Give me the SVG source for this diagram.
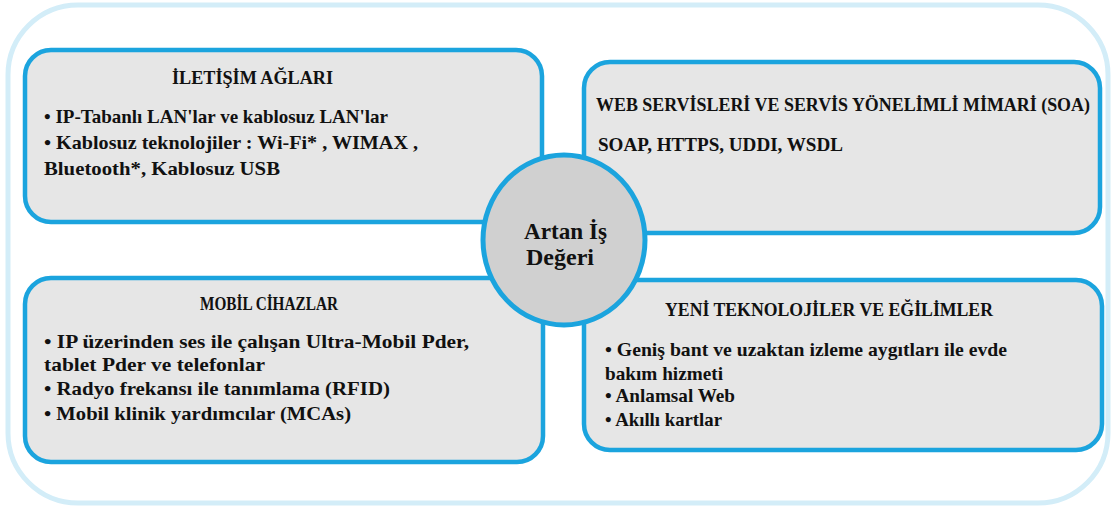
<svg xmlns="http://www.w3.org/2000/svg" width="1113" height="509" viewBox="0 0 1113 509">
  <style>
    .frame { fill: #ffffff; stroke: #d3edf8; stroke-width: 5; }
    .box { fill: #e6e6e6; stroke: #1ba4de; stroke-width: 4.5; }
    .hub { fill: #d0d0d0; stroke: #1ba4de; stroke-width: 5; }
    text { font-family: "Liberation Serif", "Times New Roman", serif; font-weight: bold; fill: #111111; }
    .title { font-size: 18px; }
    .body { font-size: 19px; }
    .hubtxt { font-size: 23px; }
  </style>

  <!-- outer frame -->
  <rect class="frame" x="8" y="5" width="1100" height="498" rx="70" ry="70"/>

  <!-- communication networks -->
  <g id="iletisim">
    <rect class="box" x="25" y="50" width="517" height="172" rx="26" ry="26"/>
    <text class="title" x="172" y="84" textLength="161" lengthAdjust="spacingAndGlyphs">İLETİŞİM AĞLARI</text>
    <text class="body" x="44" y="123" textLength="344" lengthAdjust="spacingAndGlyphs">• IP-Tabanlı LAN'lar ve kablosuz LAN'lar</text>
    <text class="body" x="44" y="149" textLength="374" lengthAdjust="spacingAndGlyphs">• Kablosuz teknolojiler : Wi-Fi* , WIMAX ,</text>
    <text class="body" x="44" y="175" textLength="236" lengthAdjust="spacingAndGlyphs">Bluetooth*, Kablosuz USB</text>
  </g>

  <!-- web services / SOA -->
  <g id="soa">
    <rect class="box" x="584" y="62" width="516" height="171" rx="26" ry="26"/>
    <text class="title" x="596" y="111" textLength="494" lengthAdjust="spacingAndGlyphs">WEB SERVİSLERİ VE SERVİS YÖNELİMLİ MİMARİ (SOA)</text>
    <text class="body" x="598" y="151" textLength="245" lengthAdjust="spacingAndGlyphs">SOAP, HTTPS, UDDI, WSDL</text>
  </g>

  <!-- mobile devices -->
  <g id="mobil">
    <rect class="box" x="25" y="278" width="518" height="184" rx="26" ry="26"/>
    <text class="title" x="200" y="310" textLength="138" lengthAdjust="spacingAndGlyphs">MOBİL CİHAZLAR</text>
    <text class="body" x="44" y="348" textLength="425" lengthAdjust="spacingAndGlyphs">• IP üzerinden ses ile çalışan Ultra-Mobil Pder,</text>
    <text class="body" x="44" y="371" textLength="221" lengthAdjust="spacingAndGlyphs">tablet Pder ve telefonlar</text>
    <text class="body" x="44" y="395" textLength="346" lengthAdjust="spacingAndGlyphs">• Radyo frekansı ile tanımlama (RFID)</text>
    <text class="body" x="44" y="420" textLength="307" lengthAdjust="spacingAndGlyphs">• Mobil klinik yardımcılar (MCAs)</text>
  </g>

  <!-- new technologies -->
  <g id="yeni">
    <rect class="box" x="584" y="280" width="518" height="170" rx="26" ry="26"/>
    <text class="title" x="665" y="316" textLength="328" lengthAdjust="spacingAndGlyphs">YENİ TEKNOLOJİLER VE EĞİLİMLER</text>
    <text class="body" x="605" y="356" textLength="402" lengthAdjust="spacingAndGlyphs">• Geniş bant ve uzaktan izleme aygıtları ile evde</text>
    <text class="body" x="605" y="380" textLength="118" lengthAdjust="spacingAndGlyphs">bakım hizmeti</text>
    <text class="body" x="605" y="402" textLength="130" lengthAdjust="spacingAndGlyphs">• Anlamsal Web</text>
    <text class="body" x="605" y="426" textLength="117" lengthAdjust="spacingAndGlyphs">• Akıllı kartlar</text>
  </g>

  <!-- central hub -->
  <g id="artan">
    <ellipse class="hub" cx="564" cy="240" rx="81" ry="85"/>
    <text class="hubtxt" x="524" y="239" textLength="83" lengthAdjust="spacingAndGlyphs">Artan İş</text>
    <text class="hubtxt" x="526" y="265" textLength="68" lengthAdjust="spacingAndGlyphs">Değeri</text>
  </g>
</svg>
